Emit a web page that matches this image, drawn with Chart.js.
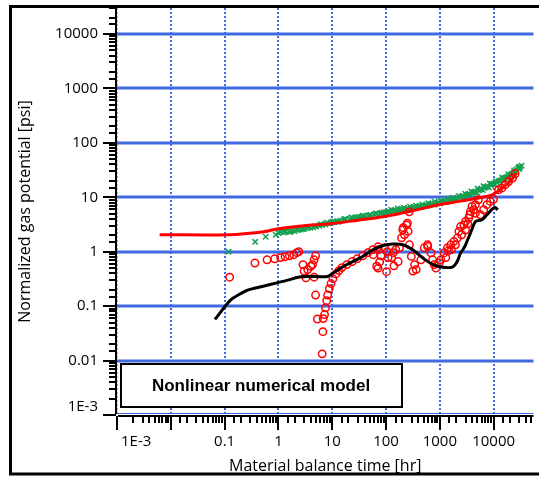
<!DOCTYPE html>
<html>
<head>
<meta charset="utf-8">
<script src="https://cdn.jsdelivr.net/npm/chart.js@4.4.1/dist/chart.umd.min.js"></script>
<style>
  html, body { margin: 0; padding: 0; background: #fff; overflow: hidden; }
  #wrap { width: 539px; height: 477px; position: relative; }
</style>
</head>
<body>
<div id="wrap"><canvas id="chart"></canvas></div>
<script>
// tick labels
const xTickValues = [0.001, 0.1, 1, 10, 100, 1000, 10000];
const xTickLabels = ['1E-3', '0.1', '1', '10', '100', '1000', '10000'];
const yTickValues = [0.001, 0.01, 0.1, 1, 10, 100, 1000, 10000];
const yTickLabels = ['1E-3', '0.01', '0.1', '1', '10', '100', '1000', '10000'];

// model curve (red line)
const modelX = [0.0062, 0.12, 0.5, 1.0, 3, 9.2, 30, 94, 300, 960, 2230, 5200, 9400, 14300, 20100, 26700];
const modelY = [2.05, 2.05, 2.3, 2.64, 3.0, 3.26, 3.8, 4.44, 5.6, 7.3, 8.4, 9.7, 11.1, 14.8, 19.5, 27.8];

// model derivative (black line)
const derivX = [0.066, 0.13, 0.26, 0.5, 0.98, 1.5, 2.3, 3.5, 8.1, 11, 16.4, 33, 58, 89, 136, 205, 314, 478, 740, 1130, 1700, 2100, 2430, 2680, 3000, 3700, 4580, 6070, 7500, 9270, 10660, 11940];
const derivY = [0.057, 0.13, 0.195, 0.23, 0.27, 0.30, 0.34, 0.35, 0.35, 0.42, 0.54, 0.77, 1.09, 1.3, 1.38, 1.34, 1.09, 0.77, 0.58, 0.52, 0.52, 0.66, 0.95, 1.09, 1.34, 2.2, 3.6, 3.86, 4.77, 6.0, 6.5, 5.9];

// measured normalized potential (green crosses)
const dataX = [0.118, 0.37, 0.58, 0.89, 1.0, 1.05, 1.1, 1.25, 1.3, 1.4, 1.6, 1.7, 1.8, 2.0, 2.15, 2.3, 2.6, 2.8, 3.0, 3.4, 3.6, 3.9, 4.4, 4.7, 5.0, 5.7, 6.1, 6.5, 7.4, 7.9, 8.4, 9.5, 10.2, 11, 12.5, 13, 14, 16, 17, 18, 21, 22.5, 24, 27, 29, 31, 35, 37, 40, 46, 49, 52, 60, 64, 68, 78, 84, 90, 100, 108, 115, 130, 140, 150, 170, 182, 195, 220, 235, 250, 290, 310, 330, 380, 405, 430, 490, 525, 560, 640, 680, 730, 830, 890, 950, 1080, 1150, 1230, 1400, 1500, 1600, 1820, 1950, 2080, 2370, 2550, 2700, 3080, 3300, 3500, 4000, 4300, 4550, 5200, 5550, 5900, 6700, 7200, 7700, 8800, 9400, 10000, 11400, 12200, 13000, 14800, 15800, 16900, 19200, 20500, 21900, 25000, 26500, 28500, 31000, 33000,
    120, 160, 210, 270, 350, 460, 600, 780, 1000, 1300, 1700, 2200, 2900, 3800, 4900, 6300, 8200, 10700, 13900, 18000, 23500, 30000,
    125, 165, 215, 280, 360, 470, 610, 800, 1040, 1350, 1750, 2250, 2950, 3850, 5000, 6500, 8500, 11000, 14500, 18700, 24000, 29500];
const dataY = [1.0, 1.52, 1.88, 2.05, 2.2, 2.35, 2.3, 2.25, 2.4, 2.35, 2.3, 2.35, 2.45, 2.4, 2.55, 2.5, 2.55, 2.6, 2.6, 2.7, 2.85, 2.75, 2.8, 2.95, 2.9, 3.0, 3.2, 3.1, 3.2, 3.4, 3.3, 3.45, 3.6, 3.5, 3.6, 3.55, 3.7, 3.8, 4.0, 3.95, 4.0, 4.25, 4.15, 4.2, 4.3, 4.35, 4.4, 4.6, 4.5, 4.6, 4.7, 4.75, 4.85, 5.05, 5.0, 5.1, 5.2, 5.25, 5.3, 5.5, 5.45, 5.5, 5.7, 5.65, 5.75, 6.0, 5.9, 6.0, 6.1, 6.15, 6.3, 6.5, 6.4, 6.6, 6.8, 6.75, 6.9, 7.0, 7.1, 7.3, 7.5, 7.5, 7.7, 7.8, 7.9, 8.2, 8.4, 8.4, 8.7, 8.8, 9.0, 9.2, 9.5, 9.6, 9.9, 10.3, 10.4, 10.9, 11.3, 11.4, 12.0, 12.5, 12.6, 13.3, 13.8, 14.0, 14.8, 15.5, 15.8, 16.8, 17.6, 17.5, 18.8, 19.8, 20, 21.5, 22.5, 23, 24.5, 26, 27, 30, 32, 34, 36, 38,
    5.2, 5.5, 5.8, 6.0, 6.3, 6.6, 7.0, 7.3, 7.7, 8.2, 8.8, 9.3, 10.0, 11.0, 12.2, 13.6, 15.2, 17.2, 20.5, 23.5, 28.5, 33,
    5.9, 6.2, 6.4, 6.7, 7.0, 7.4, 7.8, 8.3, 8.6, 9.2, 9.8, 10.6, 11.6, 12.8, 14.5, 16.0, 18.0, 19.5, 23.0, 26.5, 31, 36];

// measured derivative (red circles)
const derivDataX = [0.124, 0.366, 0.615, 0.85, 1.1, 1.33, 1.6, 1.93, 2.2, 2.4, 2.86, 3.0, 3.25, 3.5, 4.0, 4.3, 4.6, 4.9, 4.6, 4.9, 5.3, 6.8, 6.7, 6.5, 7.2, 7.5, 7.9, 8.2, 8.8, 9.5, 10.3, 11.7, 13.3, 15.2, 18.7, 23.5, 29, 37, 46, 57, 71, 67, 71, 76, 58, 72, 81, 94, 102, 109, 105, 127, 136, 140, 152, 168, 178, 194, 205, 209, 220, 240, 250, 257, 270, 272, 295, 315, 339, 363, 445, 512, 590, 595, 684, 733, 785, 845, 970, 1043, 1200, 1290, 1380, 1450, 1590, 1640, 1830, 1950, 2110, 2260, 2430, 2540, 2800, 3000, 3000, 3300, 3450, 3600, 3700, 3960, 4250, 4580, 4580, 5200, 5660, 6520, 7500, 8640, 9950, 12300, 14200, 16400, 18900, 22400, 25000];
const derivDataY = [0.34, 0.62, 0.71, 0.74, 0.78, 0.81, 0.84, 0.88, 0.96, 1.0, 0.58, 0.44, 0.33, 0.47, 0.54, 0.58, 0.71, 0.84, 0.34, 0.16, 0.058, 0.059, 0.034, 0.0133, 0.07, 0.093, 0.126, 0.16, 0.21, 0.26, 0.32, 0.39, 0.45, 0.51, 0.58, 0.66, 0.74, 0.84, 0.96, 1.09, 1.23, 0.54, 0.5, 0.65, 0.88, 1.09, 0.84, 1.18, 0.43, 0.78, 1.0, 0.78, 0.96, 0.55, 1.09, 0.66, 1.18, 1.8, 2.53, 2.76, 2.05, 3.1, 3.35, 2.36, 5.4, 1.34, 0.82, 0.44, 0.58, 0.47, 0.71, 1.18, 1.34, 1.25, 0.95, 0.71, 0.58, 0.50, 0.62, 0.71, 0.95, 0.78, 1.17, 1.05, 1.34, 1.09, 1.55, 1.34, 1.78, 2.36, 2.9, 2.05, 3.1, 3.6, 2.5, 3.26, 4.15, 4.77, 5.5, 6.8, 5.9, 5.1, 7.3, 9.0, 4.77, 5.9, 7.3, 8.4, 9.2, 13.7, 14.7, 16.9, 19.5, 22.5, 27];

const toPoints = (xs, ys) => xs.map((x, i) => ({ x: x, y: ys[i] }));
const isDecade = (v) => Math.abs(Math.log10(v) - Math.round(Math.log10(v))) < 1e-6;

const gridBlue = 'rgb(65, 105, 225)';
const labelFont = '15px "Open Sans", sans-serif';

function drawGrid(chart) {
    const c = chart.ctx, a = chart.chartArea, sx = chart.scales.x, sy = chart.scales.y;
    c.save();
    c.strokeStyle = gridBlue;
    c.setLineDash([2, 2]);
    sx.ticks.forEach(t => {
        if (!isDecade(t.value)) return;
        const px = Math.round(sx.getPixelForValue(t.value));
        c.lineWidth = t.value <= 0.001 ? 1 : 2;
        c.beginPath();
        c.moveTo(px, a.top);
        c.lineTo(px, a.bottom);
        c.stroke();
    });
    c.setLineDash([]);
    sy.ticks.forEach(t => {
        if (!isDecade(t.value)) return;
        const bottomLine = t.value <= 0.001;
        const py = Math.round(sy.getPixelForValue(t.value)) - (bottomLine ? 1.5 : 0);
        c.lineWidth = bottomLine ? 1 : 3;
        c.beginPath();
        c.moveTo(a.left, py);
        c.lineTo(a.right, py);
        c.stroke();
    });
    c.restore();
}

function drawAxes(chart) {
    const c = chart.ctx, a = chart.chartArea, sx = chart.scales.x, sy = chart.scales.y;
    c.save();
    c.setLineDash([]);
    c.strokeStyle = '#000000';
    c.lineWidth = 2;
    c.beginPath();
    c.moveTo(a.left - 1, a.top);
    c.lineTo(a.left - 1, a.bottom - 1);
    c.stroke();
    c.beginPath();
    c.moveTo(a.left + 1, a.bottom + 1);
    c.lineTo(a.right, a.bottom + 1);
    c.stroke();
    sy.ticks.forEach(t => {
        const py = Math.round(sy.getPixelForValue(t.value));
        if (py < a.top - 1 || py > a.bottom + 1) return;
        const len = isDecade(t.value) ? 13 : 7;
        c.beginPath();
        c.moveTo(a.left - 1, py);
        c.lineTo(a.left - 1 - len, py);
        c.stroke();
    });
    sx.ticks.forEach(t => {
        const px = Math.round(sx.getPixelForValue(t.value));
        if (px < a.left - 1 || px > a.right) return;
        const len = isDecade(t.value) ? 14 : 7;
        c.beginPath();
        c.moveTo(px, a.bottom + 1);
        c.lineTo(px, a.bottom + 1 + len);
        c.stroke();
    });
    // tick labels
    c.fillStyle = '#000';
    c.font = labelFont;
    c.textBaseline = 'middle';
    c.textAlign = 'right';
    yTickValues.forEach((v, i) => {
        let py = sy.getPixelForValue(v);
        if (py > a.bottom - 8) py = a.bottom - 8;
        c.fillText(yTickLabels[i], a.left - 19, py);
    });
    xTickValues.forEach((v, i) => {
        const px = sx.getPixelForValue(v);
        if (px < a.left + 2) {
            c.textAlign = 'left';
            c.fillText(xTickLabels[i], px + 4, a.bottom + 27);
        } else {
            c.textAlign = 'center';
            c.fillText(xTickLabels[i], px, a.bottom + 27);
        }
    });
    c.restore();
}

function drawFrameAndBox(chart) {
    const c = chart.ctx, a = chart.chartArea;
    c.save();
    c.setLineDash([]);
    c.strokeStyle = '#000000';
    c.lineWidth = 3;
    c.beginPath();
    c.moveTo(chart.width + 5, 6.5);
    c.lineTo(10.5, 6.5);
    c.lineTo(10.5, 474);
    c.lineTo(chart.width + 5, 474);
    c.stroke();
    c.fillStyle = '#fff';
    c.lineWidth = 2;
    c.fillRect(a.left + 4, 364, 281, 43);
    c.strokeRect(a.left + 4, 364, 281, 43);
    c.fillStyle = '#000';
    c.font = 'bold 17px "Liberation Sans", Arial, sans-serif';
    c.textAlign = 'center';
    c.textBaseline = 'middle';
    c.fillText('Nonlinear numerical model', a.left + 4 + 140, 386);
    c.restore();
}

const frameAndAxes = {
    id: 'frameAndAxes',
    beforeDatasetsDraw(chart) { drawGrid(chart); },
    afterDatasetsDraw(chart) { drawAxes(chart); },
    afterDraw(chart) { drawFrameAndBox(chart); }
};

new Chart(document.getElementById('chart'), {
    type: 'scatter',
    data: {
        datasets: [
            {
                label: 'Model derivative',
                data: toPoints(derivX, derivY),
                showLine: true,
                borderColor: '#000',
                borderWidth: 3,
                pointRadius: 0,
                tension: 0.2,
                order: 0
            },
            {
                label: 'Model',
                data: toPoints(modelX, modelY),
                showLine: true,
                borderColor: '#ff0000',
                borderWidth: 3,
                pointRadius: 0,
                tension: 0.3,
                order: 1
            },
            {
                label: 'Derivative data',
                data: toPoints(derivDataX, derivDataY),
                pointStyle: 'circle',
                pointRadius: 3.7,
                pointBorderWidth: 1.5,
                borderColor: '#ff0000',
                backgroundColor: 'rgba(0,0,0,0)',
                order: 2
            },
            {
                label: 'Data',
                data: toPoints(dataX, dataY),
                pointStyle: 'crossRot',
                pointRadius: 3.8,
                pointBorderWidth: 1.5,
                borderColor: 'rgb(20, 160, 80)',
                backgroundColor: 'rgb(20, 160, 80)',
                order: 3
            }
        ]
    },
    options: {
        responsive: true,
        maintainAspectRatio: false,
        animation: false,
        layout: { padding: { left: 12, top: 8, right: 0, bottom: 0 } },
        plugins: {
            legend: { display: false },
            tooltip: { enabled: false }
        },
        scales: {
            x: {
                type: 'logarithmic',
                position: 'bottom',
                min: 0.001,
                max: 55000,
                grid: { display: false, drawTicks: false },
                border: { display: false },
                ticks: { display: false },
                title: {
                    display: true,
                    text: 'Material balance time [hr]',
                    color: '#000',
                    font: { family: 'Open Sans', size: 16 },
                    padding: { top: 0, bottom: 1 }
                },
                afterFit: (s) => { s.height = 62; }
            },
            y: {
                type: 'logarithmic',
                min: 0.001,
                max: 30000,
                grid: { display: false, drawTicks: false },
                border: { display: false },
                ticks: { display: false },
                title: {
                    display: true,
                    text: 'Normalized gas potential [psi]',
                    color: '#000',
                    font: { family: 'Open Sans', size: 16 },
                    padding: { top: 4, bottom: 0 }
                },
                afterFit: (s) => { s.width = 105; }
            }
        }
    },
    plugins: [frameAndAxes]
});
</script>
</body>
</html>
